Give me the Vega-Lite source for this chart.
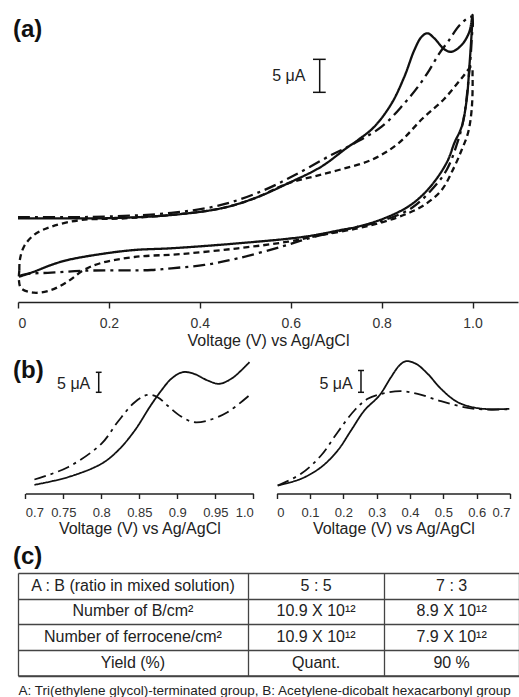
{
  "$schema": "https://vega.github.io/schema/vega-lite/v6.json",
  "padding": {"left": 12, "top": 0, "right": 0, "bottom": 0},
  "background": "white",
  "bounds": "flush",
  "spacing": 79,
  "config": {
    "view": {"stroke": null},
    "font": "Liberation Sans",
    "axis": {
      "labelFont": "Liberation Sans", "labelFontSize": 14, "labelColor": "#333",
      "titleFont": "Liberation Sans", "titleFontSize": 16, "titleFontWeight": "normal", "titleColor": "#222",
      "domainColor": "#222", "tickColor": "#222", "domainWidth": 1.4, "tickWidth": 1.4, "grid": false
    },
    "text": {"font": "Liberation Sans", "color": "#222"}
  },
  "datasets": {
    "cvA": [
      {"curve":"solid","n":1,"V":0,"I":12.68},{"curve":"solid","n":2,"V":0.1,"I":12.68},{"curve":"solid","n":3,"V":0.2,"I":12.7},{"curve":"solid","n":4,"V":0.337,"I":13.18},{"curve":"solid","n":5,"V":0.447,"I":14.2},{"curve":"solid","n":6,"V":0.52,"I":15.71},{"curve":"solid","n":7,"V":0.594,"I":17.98},{"curve":"solid","n":8,"V":0.667,"I":20.5},{"curve":"solid","n":9,"V":0.722,"I":23.29},{"curve":"solid","n":10,"V":0.748,"I":24.55},{"curve":"solid","n":11,"V":0.784,"I":26.56},{"curve":"solid","n":12,"V":0.822,"I":30.1},{"curve":"solid","n":13,"V":0.85,"I":34.14},{"curve":"solid","n":14,"V":0.872,"I":38.18},{"curve":"solid","n":15,"V":0.888,"I":40.2},{"curve":"solid","n":16,"V":0.901,"I":40.71},{"curve":"solid","n":17,"V":0.916,"I":39.95},{"curve":"solid","n":18,"V":0.938,"I":38.29},{"curve":"solid","n":19,"V":0.954,"I":37.92},{"curve":"solid","n":20,"V":0.976,"I":38.94},{"curve":"solid","n":21,"V":0.993,"I":40.95},{"curve":"solid","n":22,"V":1.0,"I":43.5},{"curve":"solid","n":23,"V":0.998,"I":40.76},{"curve":"solid","n":24,"V":0.993,"I":35.65},{"curve":"solid","n":25,"V":0.987,"I":30.6},{"curve":"solid","n":26,"V":0.976,"I":26.56},{"curve":"solid","n":27,"V":0.96,"I":24.1},{"curve":"solid","n":28,"V":0.946,"I":21.52},{"curve":"solid","n":29,"V":0.924,"I":18.98},{"curve":"solid","n":30,"V":0.894,"I":16.47},{"curve":"solid","n":31,"V":0.858,"I":14.44},{"curve":"solid","n":32,"V":0.806,"I":12.68},{"curve":"solid","n":33,"V":0.748,"I":11.41},{"curve":"solid","n":34,"V":0.711,"I":10.91},{"curve":"solid","n":35,"V":0.63,"I":9.89},{"curve":"solid","n":36,"V":0.484,"I":8.89},{"curve":"solid","n":37,"V":0.337,"I":8.14},{"curve":"solid","n":38,"V":0.256,"I":7.88},{"curve":"solid","n":39,"V":0.183,"I":7.27},{"curve":"solid","n":40,"V":0.109,"I":6.36},{"curve":"solid","n":41,"V":0.073,"I":5.61},{"curve":"solid","n":42,"V":0.035,"I":4.59},{"curve":"solid","n":43,"V":0.002,"I":3.83},
      {"curve":"dashdot","n":1,"V":0,"I":12.85},{"curve":"dashdot","n":2,"V":0.1,"I":12.85},{"curve":"dashdot","n":3,"V":0.2,"I":12.95},{"curve":"dashdot","n":4,"V":0.337,"I":13.5},{"curve":"dashdot","n":5,"V":0.447,"I":14.7},{"curve":"dashdot","n":6,"V":0.542,"I":16.97},{"curve":"dashdot","n":7,"V":0.616,"I":19.5},{"curve":"dashdot","n":8,"V":0.689,"I":22.27},{"curve":"dashdot","n":9,"V":0.726,"I":23.53},{"curve":"dashdot","n":10,"V":0.8,"I":26.56},{"curve":"dashdot","n":11,"V":0.85,"I":30.1},{"curve":"dashdot","n":12,"V":0.88,"I":32.62},{"curve":"dashdot","n":13,"V":0.905,"I":35.15},{"curve":"dashdot","n":14,"V":0.927,"I":37.68},{"curve":"dashdot","n":15,"V":0.946,"I":39.44},{"curve":"dashdot","n":16,"V":0.974,"I":42.12},{"curve":"dashdot","n":17,"V":0.998,"I":43.2},{"curve":"dashdot","n":18,"V":0.998,"I":39.7},{"curve":"dashdot","n":19,"V":0.991,"I":33.6},{"curve":"dashdot","n":20,"V":0.98,"I":27.6},{"curve":"dashdot","n":21,"V":0.965,"I":23.8},{"curve":"dashdot","n":22,"V":0.943,"I":20.0},{"curve":"dashdot","n":23,"V":0.91,"I":17.0},{"curve":"dashdot","n":24,"V":0.866,"I":14.24},{"curve":"dashdot","n":25,"V":0.806,"I":12.42},{"curve":"dashdot","n":26,"V":0.733,"I":11.17},{"curve":"dashdot","n":27,"V":0.652,"I":9.89},{"curve":"dashdot","n":28,"V":0.579,"I":8.38},{"curve":"dashdot","n":29,"V":0.484,"I":6.62},{"curve":"dashdot","n":30,"V":0.41,"I":5.61},{"curve":"dashdot","n":31,"V":0.337,"I":5.11},{"curve":"dashdot","n":32,"V":0.293,"I":4.85},{"curve":"dashdot","n":33,"V":0.145,"I":4.74},{"curve":"dashdot","n":34,"V":0.073,"I":4.44},{"curve":"dashdot","n":35,"V":0.018,"I":4.24},{"curve":"dashdot","n":36,"V":0.0,"I":3.9},
      {"curve":"dashed","n":1,"V":0.003,"I":4.85},{"curve":"dashed","n":2,"V":0.004,"I":6.36},{"curve":"dashed","n":3,"V":0.013,"I":8.38},{"curve":"dashed","n":4,"V":0.035,"I":10.15},{"curve":"dashed","n":5,"V":0.073,"I":11.41},{"curve":"dashed","n":6,"V":0.139,"I":12.42},{"curve":"dashed","n":7,"V":0.227,"I":12.65},{"curve":"dashed","n":8,"V":0.337,"I":13.18},{"curve":"dashed","n":9,"V":0.447,"I":14.2},{"curve":"dashed","n":10,"V":0.52,"I":15.71},{"curve":"dashed","n":11,"V":0.594,"I":17.98},{"curve":"dashed","n":12,"V":0.65,"I":19.0},{"curve":"dashed","n":13,"V":0.711,"I":20.1},{"curve":"dashed","n":14,"V":0.78,"I":21.6},{"curve":"dashed","n":15,"V":0.836,"I":24.0},{"curve":"dashed","n":16,"V":0.89,"I":27.8},{"curve":"dashed","n":17,"V":0.938,"I":30.8},{"curve":"dashed","n":18,"V":0.976,"I":33.9},{"curve":"dashed","n":19,"V":0.998,"I":35.65},{"curve":"dashed","n":20,"V":1.0,"I":34.14},{"curve":"dashed","n":21,"V":0.998,"I":29.09},{"curve":"dashed","n":22,"V":0.99,"I":25.6},{"curve":"dashed","n":23,"V":0.976,"I":23.03},{"curve":"dashed","n":24,"V":0.96,"I":20.5},{"curve":"dashed","n":25,"V":0.932,"I":16.97},{"curve":"dashed","n":26,"V":0.894,"I":14.7},{"curve":"dashed","n":27,"V":0.858,"I":13.44},{"curve":"dashed","n":28,"V":0.806,"I":12.17},{"curve":"dashed","n":29,"V":0.748,"I":11.17},{"curve":"dashed","n":30,"V":0.667,"I":10.15},{"curve":"dashed","n":31,"V":0.594,"I":9.14},{"curve":"dashed","n":32,"V":0.484,"I":8.14},{"curve":"dashed","n":33,"V":0.359,"I":7.27},{"curve":"dashed","n":34,"V":0.256,"I":6.82},{"curve":"dashed","n":35,"V":0.183,"I":5.91},{"curve":"dashed","n":36,"V":0.145,"I":4.85},{"curve":"dashed","n":37,"V":0.109,"I":3.08},{"curve":"dashed","n":38,"V":0.073,"I":1.82},{"curve":"dashed","n":39,"V":0.035,"I":1.41},{"curve":"dashed","n":40,"V":0.007,"I":2.08},{"curve":"dashed","n":41,"V":0.002,"I":3.33},{"curve":"dashed","n":42,"V":0.003,"I":4.85}
    ],
    "bL": [
      {"curve":"solid","n":1,"V":0.712,"I":2.17},{"curve":"solid","n":2,"V":0.756,"I":4.08},{"curve":"solid","n":3,"V":0.8,"I":7.42},{"curve":"solid","n":4,"V":0.822,"I":10.75},{"curve":"solid","n":5,"V":0.844,"I":15.75},{"curve":"solid","n":6,"V":0.865,"I":22.0},{"curve":"solid","n":7,"V":0.879,"I":25.75},{"curve":"solid","n":8,"V":0.892,"I":28.67},{"curve":"solid","n":9,"V":0.907,"I":30.33},{"curve":"solid","n":10,"V":0.922,"I":29.92},{"curve":"solid","n":11,"V":0.94,"I":28.25},{"curve":"solid","n":12,"V":0.955,"I":27.42},{"curve":"solid","n":13,"V":0.971,"I":28.67},{"curve":"solid","n":14,"V":0.984,"I":30.75},{"curve":"solid","n":15,"V":0.995,"I":32.83},
      {"curve":"dashdot","n":1,"V":0.712,"I":3.5},{"curve":"dashdot","n":2,"V":0.756,"I":6.58},{"curve":"dashdot","n":3,"V":0.8,"I":12.42},{"curve":"dashdot","n":4,"V":0.822,"I":18.0},{"curve":"dashdot","n":5,"V":0.844,"I":22.83},{"curve":"dashdot","n":6,"V":0.861,"I":24.67},{"curve":"dashdot","n":7,"V":0.874,"I":24.08},{"curve":"dashdot","n":8,"V":0.887,"I":22.0},{"curve":"dashdot","n":9,"V":0.905,"I":19.25},{"curve":"dashdot","n":10,"V":0.922,"I":17.83},{"curve":"dashdot","n":11,"V":0.94,"I":18.25},{"curve":"dashdot","n":12,"V":0.966,"I":20.33},{"curve":"dashdot","n":13,"V":0.997,"I":24.92}
    ],
    "bR": [
      {"curve":"solid","n":1,"V":0.003,"I":2.0},{"curve":"solid","n":2,"V":0.073,"I":3.67},{"curve":"solid","n":3,"V":0.133,"I":6.58},{"curve":"solid","n":4,"V":0.183,"I":10.75},{"curve":"solid","n":5,"V":0.223,"I":15.75},{"curve":"solid","n":6,"V":0.263,"I":20.75},{"curve":"solid","n":7,"V":0.308,"I":24.5},{"curve":"solid","n":8,"V":0.343,"I":29.08},{"curve":"solid","n":9,"V":0.368,"I":32.0},{"curve":"solid","n":10,"V":0.388,"I":33.08},{"curve":"solid","n":11,"V":0.418,"I":32.42},{"curve":"solid","n":12,"V":0.453,"I":29.92},{"curve":"solid","n":13,"V":0.493,"I":26.17},{"curve":"solid","n":14,"V":0.543,"I":22.83},{"curve":"solid","n":15,"V":0.603,"I":21.33},{"curve":"solid","n":16,"V":0.663,"I":21.08},{"curve":"solid","n":17,"V":0.698,"I":21.17},
      {"curve":"dashdot","n":1,"V":0.003,"I":2.0},{"curve":"dashdot","n":2,"V":0.073,"I":4.92},{"curve":"dashdot","n":3,"V":0.133,"I":9.5},{"curve":"dashdot","n":4,"V":0.183,"I":15.33},{"curve":"dashdot","n":5,"V":0.233,"I":20.75},{"curve":"dashdot","n":6,"V":0.273,"I":23.67},{"curve":"dashdot","n":7,"V":0.323,"I":25.08},{"curve":"dashdot","n":8,"V":0.373,"I":25.58},{"curve":"dashdot","n":9,"V":0.423,"I":24.92},{"curve":"dashdot","n":10,"V":0.493,"I":23.08},{"curve":"dashdot","n":11,"V":0.573,"I":21.42},{"curve":"dashdot","n":12,"V":0.643,"I":20.92},{"curve":"dashdot","n":13,"V":0.698,"I":21.08}
    ],
    "tbl": [
      {"row":"A : B (ratio in mixed solution)","c55":"5 : 5","c73":"7 : 3"},
      {"row":"Number of B/cm²","c55":"10.9 X 10¹²","c73":"8.9 X 10¹²"},
      {"row":"Number of ferrocene/cm²","c55":"10.9 X 10¹²","c73":"7.9 X 10¹²"},
      {"row":"Yield (%)","c55":"Quant.","c73":"90 %"}
    ]
  },
  "vconcat": [
    {
      "width": 500,
      "height": 302,
      "layer": [
        {
          "data": {"name": "cvA"},
          "mark": {"type": "line", "interpolate": "catmull-rom", "color": "#111", "strokeWidth": 2.3},
          "encoding": {
            "x": {"field": "V", "type": "quantitative", "scale": {"domain": [0, 1.1], "nice": false, "zero": false},
                  "axis": {"values": [0, 0.2, 0.4, 0.6, 0.8, 1], "labelExpr": "datum.value == 0 ? '0' : format(datum.value, '.1f')", "title": "Voltage (V) vs Ag/AgCl", "tickSize": 6, "labelPadding": 8, "titlePadding": 2}},
            "y": {"field": "I", "type": "quantitative", "scale": {"domain": [0, 45.76], "nice": false, "zero": false}, "axis": null},
            "detail": {"field": "curve"},
            "order": {"field": "n", "type": "quantitative"},
            "strokeDash": {"field": "curve", "type": "nominal", "scale": {"domain": ["solid", "dashdot", "dashed"], "range": [[1, 0], [12, 5, 3, 5], [6, 4]]}, "legend": null}
          }
        },
        {
          "data": {"values": [{}]},
          "mark": {"type": "rule", "color": "#111", "strokeWidth": 1.5},
          "encoding": {"x": {"datum": 0.6637}, "y": {"datum": 31.77}, "y2": {"datum": 36.77}}
        },
        {
          "data": {"values": [{}]},
          "mark": {"type": "rule", "color": "#111", "strokeWidth": 1.5},
          "encoding": {"x": {"datum": 0.649}, "x2": {"datum": 0.677}, "y": {"datum": 31.77}}
        },
        {
          "data": {"values": [{}]},
          "mark": {"type": "rule", "color": "#111", "strokeWidth": 1.5},
          "encoding": {"x": {"datum": 0.649}, "x2": {"datum": 0.677}, "y": {"datum": 36.77}}
        },
        {
          "data": {"values": [{}]},
          "mark": {"type": "text", "text": "5 μA", "align": "right", "baseline": "middle", "fontSize": 16, "color": "#222"},
          "encoding": {"x": {"datum": 0.6322}, "y": {"datum": 34.3}}
        },
        {
          "data": {"values": [{}]},
          "mark": {"type": "text", "text": "(a)", "align": "left", "baseline": "middle", "fontSize": 24, "fontWeight": "bold", "color": "#111"},
          "encoding": {"x": {"datum": -0.011}, "y": {"datum": 41.2}}
        }
      ]
    },
    {
      "width": 492,
      "height": 112.5,
      "layer": [
        {
          "layer": [
            {
              "data": {"name": "bL"},
              "mark": {"type": "line", "interpolate": "catmull-rom", "color": "#111", "strokeWidth": 1.8},
              "encoding": {
                "x": {"field": "V", "type": "quantitative", "scale": {"domain": [0.7, 1.0], "range": [7.3, 235.3], "nice": false, "zero": false},
                      "axis": {"values": [0.7, 0.75, 0.8, 0.85, 0.9, 0.95, 1.0], "labelExpr": "datum.value == 1 ? '1.0' : format(datum.value, '~g')", "title": "Voltage (V) vs Ag/AgCl", "labelFontSize": 13, "tickSize": 5, "labelPadding": 8, "titlePadding": 1}},
                "y": {"field": "I", "type": "quantitative", "scale": {"domain": [0, 28.125], "nice": false, "zero": false}, "axis": null},
                "detail": {"field": "curve"},
                "order": {"field": "n", "type": "quantitative"},
                "strokeDash": {"field": "curve", "type": "nominal", "scale": {"domain": ["solid", "dashdot"], "range": [[1, 0], [8, 4, 2, 4]]}, "legend": null}
              }
            },
            {
              "data": {"values": [{}]},
              "mark": {"type": "rule", "color": "#111", "strokeWidth": 1.5},
              "encoding": {"x": {"datum": 0.7966}, "y": {"datum": 25.3}, "y2": {"datum": 30.3}}
            },
            {
              "data": {"values": [{}]},
              "mark": {"type": "rule", "color": "#111", "strokeWidth": 1.5},
              "encoding": {"x": {"datum": 0.7928}, "x2": {"datum": 0.8004}, "y": {"datum": 25.3}}
            },
            {
              "data": {"values": [{}]},
              "mark": {"type": "rule", "color": "#111", "strokeWidth": 1.5},
              "encoding": {"x": {"datum": 0.7928}, "x2": {"datum": 0.8004}, "y": {"datum": 30.3}}
            },
            {
              "data": {"values": [{}]},
              "mark": {"type": "text", "text": "5 μA", "align": "right", "baseline": "middle", "fontSize": 16, "color": "#222"},
              "encoding": {"x": {"datum": 0.7855}, "y": {"datum": 27.5}}
            },
            {
              "data": {"values": [{}]},
              "mark": {"type": "text", "text": "(b)", "align": "left", "baseline": "middle", "fontSize": 24, "fontWeight": "bold", "color": "#111"},
              "encoding": {"x": {"datum": 0.6838}, "y": {"datum": 30.6}}
            }
          ]
        },
        {
          "layer": [
            {
              "data": {"name": "bR"},
              "mark": {"type": "line", "interpolate": "catmull-rom", "color": "#111", "strokeWidth": 1.8},
              "encoding": {
                "x": {"field": "V", "type": "quantitative", "scale": {"domain": [0, 0.7], "range": [258.7, 492], "nice": false, "zero": false},
                      "axis": {"orient": "bottom", "values": [0, 0.1, 0.2, 0.3, 0.4, 0.5, 0.6, 0.7], "labelExpr": "format(datum.value, '~g')", "title": "Voltage (V) vs Ag/AgCl", "labelFontSize": 13, "tickSize": 5, "labelPadding": 8, "titlePadding": 1}},
                "y": {"field": "I", "type": "quantitative", "scale": {"domain": [0, 28.125], "nice": false, "zero": false}, "axis": null},
                "detail": {"field": "curve"},
                "order": {"field": "n", "type": "quantitative"},
                "strokeDash": {"field": "curve", "type": "nominal", "scale": {"domain": ["solid", "dashdot"], "range": [[1, 0], [8, 4, 2, 4]]}, "legend": null}
              }
            },
            {
              "data": {"values": [{}]},
              "mark": {"type": "rule", "color": "#111", "strokeWidth": 1.5},
              "encoding": {"x": {"datum": 0.2529}, "y": {"datum": 25.3}, "y2": {"datum": 30.75}}
            },
            {
              "data": {"values": [{}]},
              "mark": {"type": "rule", "color": "#111", "strokeWidth": 1.5},
              "encoding": {"x": {"datum": 0.2439}, "x2": {"datum": 0.2619}, "y": {"datum": 25.3}}
            },
            {
              "data": {"values": [{}]},
              "mark": {"type": "rule", "color": "#111", "strokeWidth": 1.5},
              "encoding": {"x": {"datum": 0.2439}, "x2": {"datum": 0.2619}, "y": {"datum": 30.75}}
            },
            {
              "data": {"values": [{}]},
              "mark": {"type": "text", "text": "5 μA", "align": "right", "baseline": "middle", "fontSize": 16, "color": "#222"},
              "encoding": {"x": {"datum": 0.228}, "y": {"datum": 27.5}}
            }
          ]
        }
      ],
      "resolve": {"scale": {"x": "independent"}, "axis": {"x": "independent"}}
    },
    {
      "width": 501,
      "height": 102.5,
      "data": {"name": "tbl"},
      "title": {"text": "(c)", "anchor": "start", "dx": -5, "dy": 26, "fontSize": 24, "fontWeight": "bold", "color": "#111", "font": "Liberation Sans", "baseline": "bottom", "offset": 6},
      "encoding": {
        "y": {"field": "row", "type": "nominal", "sort": null, "scale": {"paddingInner": 0, "paddingOuter": 0},
              "axis": {"grid": true, "tickBand": "extent", "domain": false, "ticks": false, "labels": false, "title": null, "gridColor": "#444", "gridWidth": 1.3, "gridOpacity": 1}}
      },
      "layer": [
        {
          "mark": {"type": "text", "fontSize": 16, "color": "#222", "baseline": "middle"},
          "encoding": {
            "text": {"field": "row"},
            "x": {"datum": 22.95, "type": "quantitative", "scale": {"domain": [0, 100], "nice": false, "zero": false},
                  "axis": {"values": [0, 45.9, 73.1, 100], "grid": true, "gridColor": "#444", "gridWidth": 1.3, "gridOpacity": 1, "ticks": false, "labels": false, "domain": true, "domainColor": "#444", "domainWidth": 1.3,
                           "title": "A: Tri(ethylene glycol)-terminated group, B: Acetylene-dicobalt hexacarbonyl group", "titleX": 0, "titleY": 15, "titleAlign": "left", "titleAnchor": "start", "titleBaseline": "middle", "titleFontSize": 13.5, "titleColor": "#222"}}
          }
        },
        {
          "mark": {"type": "text", "fontSize": 16, "color": "#222", "baseline": "middle"},
          "encoding": {"text": {"field": "c55"}, "x": {"datum": 59.5, "type": "quantitative"}}
        },
        {
          "mark": {"type": "text", "fontSize": 16, "color": "#222", "baseline": "middle"},
          "encoding": {"text": {"field": "c73"}, "x": {"datum": 86.55, "type": "quantitative"}}
        }
      ]
    }
  ]
}
